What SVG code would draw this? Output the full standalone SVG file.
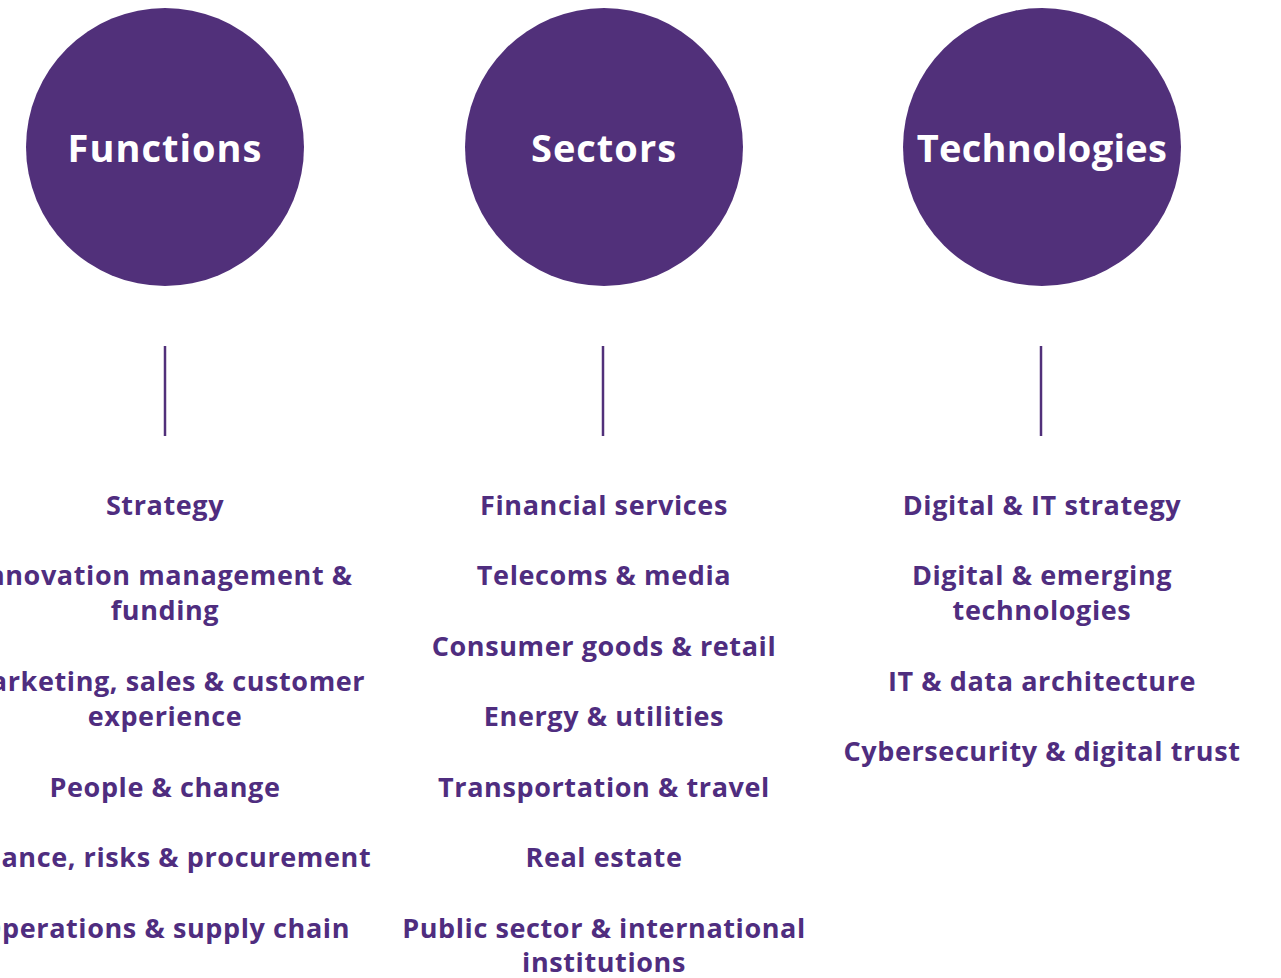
<svg xmlns="http://www.w3.org/2000/svg" width="1281" height="978" viewBox="0 0 1281 978">
<style>
.circ{fill:#51307a}
.title{font-family:"Open Sans","Liberation Sans",sans-serif;font-weight:700;font-size:38px;letter-spacing:1px;fill:#ffffff;text-anchor:middle}
.item{font-family:"Open Sans","Liberation Sans",sans-serif;font-weight:700;font-size:27px;letter-spacing:0.6px;fill:#4f2d7f;text-anchor:middle}
.conn{stroke:#51307a;stroke-width:2.5;fill:none}
</style>
<rect width="1281" height="978" fill="#ffffff"/>
<g id="connectors">
<line class="conn" x1="165" y1="346" x2="165" y2="436"/>
<line class="conn" x1="603" y1="346" x2="603" y2="436"/>
<line class="conn" x1="1041" y1="346" x2="1041" y2="436"/>
</g>
<g id="functions">
<circle class="circ" cx="165" cy="147" r="139"/>
<text class="title" x="165" y="162">Functions</text>
</g>
<g id="sectors">
<circle class="circ" cx="604" cy="147" r="139"/>
<text class="title" x="604" y="162">Sectors</text>
</g>
<g id="technologies">
<circle class="circ" cx="1042" cy="147" r="139"/>
<text class="title" x="1042" y="162" style="letter-spacing:0.3px">Technologies</text>
</g>
<g id="functions-list">
<text class="item" x="165" y="515">Strategy</text>
<text class="item" x="165" y="585">Innovation management &amp;</text>
<text class="item" x="165" y="620">funding</text>
<text class="item" x="165" y="691">Marketing, sales &amp; customer</text>
<text class="item" x="165" y="726">experience</text>
<text class="item" x="165" y="797">People &amp; change</text>
<text class="item" x="165" y="867">Finance, risks &amp; procurement</text>
<text class="item" x="165" y="938">Operations &amp; supply chain</text>
</g>
<g id="sectors-list">
<text class="item" x="604" y="515">Financial services</text>
<text class="item" x="604" y="585">Telecoms &amp; media</text>
<text class="item" x="604" y="656">Consumer goods &amp; retail</text>
<text class="item" x="604" y="726">Energy &amp; utilities</text>
<text class="item" x="604" y="797">Transportation &amp; travel</text>
<text class="item" x="604" y="867">Real estate</text>
<text class="item" x="604" y="938">Public sector &amp; international</text>
<text class="item" x="604" y="972">institutions</text>
</g>
<g id="technologies-list">
<text class="item" x="1042" y="515">Digital &amp; IT strategy</text>
<text class="item" x="1042" y="585">Digital &amp; emerging</text>
<text class="item" x="1042" y="620">technologies</text>
<text class="item" x="1042" y="691">IT &amp; data architecture</text>
<text class="item" x="1042" y="761">Cybersecurity &amp; digital trust</text>
</g>
</svg>
